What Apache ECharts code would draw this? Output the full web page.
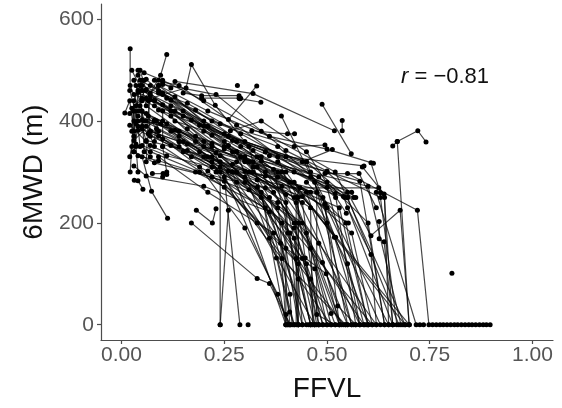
<!DOCTYPE html>
<html><head><meta charset="utf-8">
<script src="https://cdn.jsdelivr.net/npm/echarts@6/dist/echarts.min.js"></script>
<style>html,body{margin:0;padding:0;background:#fff}#c{width:562px;height:408px}</style>
</head><body><div id="c"></div>
<script>
// Tick labels
const xTicks = [0, 0.25, 0.5, 0.75, 1.0];
const yTicks = [0, 200, 400, 600];
const annotationR = '-0.81';

// Subjects whose 6MWD falls to zero (each = one subject's [FFVL, 6MWD] visits)
const declineToZero = [
 [[0.021,542],[0.021,470],[0.045,420],[0.14,370],[0.27,300],[0.40,0]],
 [[0.11,531],[0.095,490],[0.07,455],[0.22,350],[0.41,0]],
 [[0.05,440],[0.157,465],[0.17,511],[0.228,431],[0.31,350],[0.42,0]],
 [[0.03,480],[0.05,445],[0.16,385],[0.30,290],[0.41,180],[0.43,0]],
 [[0.04,500],[0.06,430],[0.18,360],[0.34,260],[0.40,0]],
 [[0.025,425],[0.09,470],[0.20,400],[0.37,305],[0.46,0]],
 [[0.05,470],[0.10,452],[0.22,372],[0.39,272],[0.47,0]],
 [[0.03,362],[0.08,402],[0.24,332],[0.42,200],[0.48,0]],
 [[0.06,482],[0.12,441],[0.26,352],[0.44,130],[0.49,0]],
 [[0.02,392],[0.07,352],[0.21,302],[0.43,120],[0.46,0]],
 [[0.04,332],[0.09,322],[0.25,282],[0.42,190],[0.50,0]],
 [[0.05,402],[0.13,382],[0.30,322],[0.49,250],[0.55,0]],
 [[0.08,480],[0.14,470],[0.28,392],[0.47,280],[0.56,0]],
 [[0.03,452],[0.10,432],[0.27,362],[0.52,258],[0.57,0]],
 [[0.06,362],[0.16,342],[0.35,292],[0.53,230],[0.60,0]],
 [[0.02,415],[0.06,462],[0.18,422],[0.32,342],[0.62,0]],
 [[0.09,422],[0.19,392],[0.36,332],[0.58,282],[0.64,0]],
 [[0.04,382],[0.12,352],[0.30,302],[0.54,252],[0.66,0]],
 [[0.07,442],[0.17,402],[0.34,322],[0.60,272],[0.68,0]],
 [[0.05,352],[0.11,332],[0.26,302],[0.44,252],[0.69,0]],
 [[0.03,312],[0.06,292],[0.20,272],[0.36,222],[0.45,0]],
 [[0.10,472],[0.23,452],[0.40,342],[0.50,302],[0.63,250],[0.67,0]],
 [[0.04,456],[0.08,441],[0.22,356],[0.39,200],[0.43,0]],
 [[0.035,470],[0.055,400],[0.15,360],[0.29,330],[0.45,180],[0.51,0]],
 [[0.045,430],[0.085,385],[0.19,340],[0.33,285],[0.475,260],[0.475,20],[0.52,0]],
 [[0.06,415],[0.11,395],[0.23,338],[0.40,256],[0.40,20],[0.405,0]],
 [[0.07,470],[0.13,448],[0.25,360],[0.43,250],[0.43,0]],
 [[0.03,400],[0.065,375],[0.17,330],[0.31,300],[0.425,240],[0.425,0]],
 [[0.045,480],[0.09,460],[0.21,390],[0.38,330],[0.53,0]],
 [[0.02,460],[0.04,400],[0.14,350],[0.28,280],[0.54,0]],
 [[0.08,430],[0.15,410],[0.27,340],[0.41,280],[0.58,0]],
 [[0.05,385],[0.10,365],[0.24,310],[0.37,260],[0.59,0]],
 [[0.035,355],[0.07,340],[0.19,300],[0.33,270],[0.61,0]],
 [[0.09,455],[0.16,435],[0.29,375],[0.46,300],[0.65,0]],
 [[0.06,445],[0.12,420],[0.25,345],[0.39,300],[0.70,0]],
 [[0.04,410],[0.095,395],[0.20,360],[0.32,310],[0.50,230],[0.63,0]],
 [[0.025,500],[0.05,460],[0.13,420],[0.26,370],[0.45,320],[0.60,0]],
 [[0.055,495],[0.10,480],[0.20,440],[0.34,380],[0.52,300],[0.69,0]],
 [[0.07,380],[0.14,360],[0.28,320],[0.44,240],[0.48,0]],
 [[0.03,340],[0.08,318],[0.22,290],[0.38,240],[0.41,0]],
 [[0.08,400],[0.22,320],[0.38,230],[0.43,200],[0.43,90],[0.44,0]],
 [[0.12,380],[0.27,300],[0.42,170],[0.425,130],[0.43,0]],
 [[0.10,350],[0.25,270],[0.40,150],[0.47,110],[0.50,0]],
 [[0.15,340],[0.30,280],[0.44,200],[0.48,160],[0.53,0]],
 [[0.18,300],[0.35,230],[0.46,90],[0.49,0]],
 [[0.09,330],[0.21,260],[0.37,180],[0.41,60],[0.415,0]],
 [[0.20,380],[0.38,300],[0.50,200],[0.55,120],[0.58,0]],
 [[0.25,350],[0.42,280],[0.56,180],[0.61,0]],
 [[0.35,340],[0.50,280],[0.60,200],[0.64,0]],
 [[0.28,300],[0.40,240],[0.405,180],[0.46,0]],
 [[0.22,310],[0.34,250],[0.387,160],[0.40,0]],
 [[0.14,360],[0.31,265],[0.45,120],[0.475,0]],
 [[0.06,390],[0.19,310],[0.30,190],[0.38,60],[0.405,0]],
 [[0.10,400],[0.21,330],[0.33,200],[0.47,0]],
 [[0.12,410],[0.24,320],[0.36,170],[0.51,0]],
 [[0.09,370],[0.23,300],[0.39,130],[0.545,0]],
 [[0.17,200],[0.33,91],[0.36,81],[0.41,0]],
 [[0.20,330],[0.24,300],[0.24,0]],
 [[0.26,225],[0.24,0]],
 [[0.25,290],[0.288,0]],
 [[0.30,330],[0.447,131],[0.498,100],[0.55,0]],
 [[0.28,340],[0.377,131],[0.409,25],[0.42,0]],
 [[0.35,300],[0.489,122],[0.526,37],[0.57,0]],
 [[0.33,310],[0.46,150],[0.51,22],[0.52,0]],
 [[0.40,300],[0.518,172],[0.58,0]],
 [[0.45,280],[0.546,200],[0.60,0]],
 [[0.389,410],[0.495,237],[0.53,0]],
 [[0.586,310],[0.639,257],[0.66,0]],
 [[0.627,203],[0.627,169],[0.639,163],[0.66,0]],
 [[0.55,230],[0.607,138],[0.62,0]],
 [[0.35,269],[0.626,269],[0.64,250],[0.65,0]],
 [[0.66,351],[0.671,360],[0.70,0]],
 [[0.55,260],[0.607,175],[0.678,225],[0.70,0]],
 [[0.30,320],[0.434,269],[0.426,250],[0.47,0]],
 [[0.32,300],[0.46,230],[0.465,0],[0.48,0]],
 [[0.22,330],[0.36,250],[0.44,0],[0.455,0]],
 [[0.29,350],[0.45,260],[0.56,0],[0.565,0]],
 [[0.34,330],[0.50,270],[0.59,0],[0.595,0]],
 [[0.27,315],[0.42,250],[0.535,0],[0.545,0]],
 [[0.38,320],[0.55,250],[0.675,0],[0.685,0]],
 [[0.55,297],[0.72,225],[0.748,0],[0.757,0],[0.766,0],[0.775,0],[0.783,0],[0.792,0],[0.801,0],[0.810,0],[0.818,0],[0.827,0],[0.836,0],[0.845,0],[0.853,0],[0.862,0],[0.871,0],[0.880,0],[0.888,0],[0.897,0]],
 [[0.62,260],[0.717,0],[0.726,0],[0.735,0]]
];

// Subjects that decline gradually
const gradual = [
 [[0.05,460],[0.15,420],[0.30,360],[0.45,320],[0.55,250]],
 [[0.08,440],[0.20,390],[0.35,340],[0.50,300],[0.57,250]],
 [[0.04,420],[0.18,370],[0.33,330],[0.48,290],[0.543,250]],
 [[0.10,455],[0.22,400],[0.38,350],[0.521,250]],
 [[0.06,400],[0.14,380],[0.28,340],[0.42,300],[0.56,260]],
 [[0.12,430],[0.25,375],[0.40,330],[0.59,312]],
 [[0.09,470],[0.21,420],[0.36,370],[0.50,345],[0.613,317]],
 [[0.07,380],[0.16,355],[0.31,320],[0.46,290],[0.565,250]],
 [[0.11,445],[0.24,395],[0.42,350],[0.495,353]],
 [[0.13,400],[0.28,360],[0.44,320],[0.513,344]],
 [[0.317,381],[0.404,375],[0.421,375]],
 [[0.265,381],[0.34,400],[0.45,340],[0.547,219]],
 [[0.20,350],[0.32,320],[0.46,260],[0.521,172]],
 [[0.27,300],[0.38,290],[0.552,200]],
 [[0.13,478],[0.32,454],[0.518,381]],
 [[0.488,433],[0.559,336]],
 [[0.537,401],[0.537,381]],
 [[0.607,318],[0.63,259]],
 [[0.671,360],[0.721,381],[0.741,359]],
 [[0.495,297],[0.578,297],[0.62,230]],
 [[0.15,455],[0.195,450],[0.286,450],[0.29,445]],
 [[0.195,445],[0.286,445]],
 [[0.26,403],[0.329,469]],
 [[0.288,444],[0.339,437]],
 [[0.182,225],[0.221,200],[0.23,228]]
];

// Subjects staying in the low-FFVL cluster
const clusterOnly = [
 [[0.008,416],[0.02,440],[0.03,380]],
 [[0.05,330],[0.073,262],[0.112,209]],
 [[0.031,284],[0.04,283],[0.052,266]],
 [[0.021,300],[0.025,350],[0.03,420]],
 [[0.03,420],[0.035,350],[0.04,300]],
 [[0.045,470],[0.05,390],[0.06,360]],
 [[0.025,380],[0.03,440],[0.05,480]],
 [[0.06,320],[0.065,410],[0.07,450]],
 [[0.04,490],[0.045,500],[0.06,460]],
 [[0.08,360],[0.085,400],[0.09,380]],
 [[0.10,420],[0.10,350],[0.11,300]],
 [[0.075,297],[0.101,297]],
 [[0.03,340],[0.04,390],[0.045,350]],
 [[0.09,480],[0.10,475],[0.12,465]],
 [[0.05,420],[0.055,340],[0.07,330]],
 [[0.035,395],[0.04,460],[0.055,480]],
 [[0.10,290],[0.11,295]],
 [[0.065,440],[0.07,370],[0.08,350]],
 [[0.02,330],[0.03,370],[0.035,430]]
];

// Single-visit subjects
const singles = [
 [[0.282,470]],
 [[0.308,0]],
 [[0.804,101]]
];

const subjects = [].concat(declineToZero, gradual, clusterOnly, singles);

const chart = echarts.init(document.getElementById('c'), null, {renderer: 'canvas'});
const font = "'Liberation Sans', Arial, sans-serif";
const axisCommon = {
  type: 'value',
  splitLine: {show: false},
  axisLine: {show: true, onZero: false, lineStyle: {color: '#4d4d4d', width: 1.2}},
  axisTick: {show: true, length: 4, lineStyle: {color: '#4d4d4d', width: 1.2}},
  nameLocation: 'middle',
  nameTextStyle: {fontFamily: font, fontSize: 28, color: '#111'}
};
chart.setOption({
  animation: false,
  grid: {left: 101, right: 9, top: 4, bottom: 53, containLabel: false},
  xAxis: Object.assign({}, axisCommon, {
    min: -0.05, max: 1.05, name: 'FFVL', nameGap: 35,
    axisTick: Object.assign({}, axisCommon.axisTick, {customValues: xTicks}),
    axisLabel: {customValues: xTicks, formatter: v => v.toFixed(2), fontFamily: font, fontSize: 21, color: '#555', margin: 5}
  }),
  yAxis: Object.assign({}, axisCommon, {
    min: -30, max: 630, name: '6MWD (m)', nameGap: 39,
    axisTick: Object.assign({}, axisCommon.axisTick, {customValues: yTicks}),
    axisLabel: {customValues: yTicks, fontFamily: font, fontSize: 21, color: '#555', margin: 7}
  }),
  graphic: [{
    type: 'text', left: 401, top: 66,
    style: {
      text: '{i|r} = ' + annotationR.replace('-', '\u2212'),
      font: '22px ' + font, fill: '#111',
      rich: {i: {fontStyle: 'italic', fontSize: 22, fontFamily: font, fill: '#111'}}
    }
  }],
  series: subjects.map(d => ({
    type: 'line', data: d, symbol: 'circle', symbolSize: 5,
    showSymbol: true, showAllSymbol: true, silent: true,
    itemStyle: {color: '#000'},
    lineStyle: {color: 'rgba(0,0,0,0.72)', width: 1.2}
  }))
});
</script></body></html>
